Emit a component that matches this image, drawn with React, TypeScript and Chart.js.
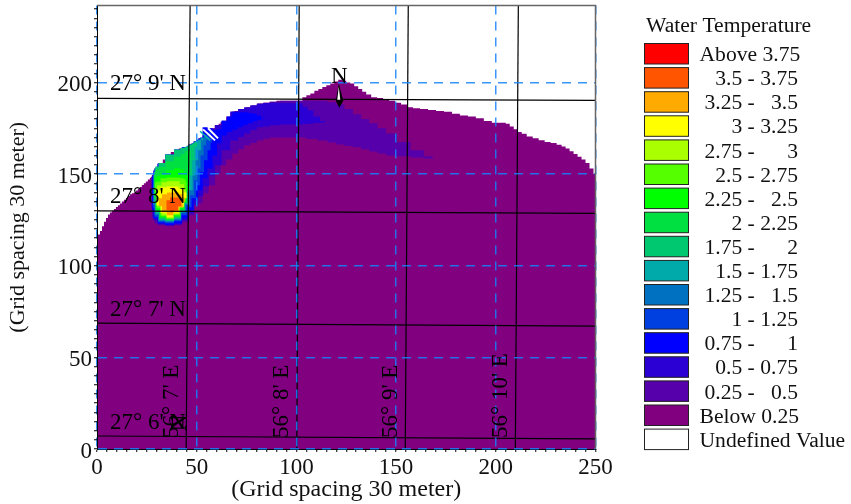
import React, { useEffect, useRef } from "react";
import { Chart, registerables } from "chart.js";

Chart.register(...registerables);

const FONT = "'Liberation Serif', 'Times New Roman', serif";

const coastX = [0,1,2,3,4,5,6,7,8,9,10,11,12,13,14,15,16,17,18,19,20,21,22,23,24,25,26,27,28,29,30,32,34,36,38,40,42,44,46,48,50,52,54,56,58,60,62,64,66,68,70,73,76,79,82,85,88,92,96,100,102,104,106,108,110,112,114,116,118,120,122,124,126,128,130,132,134,136,139,142,145,148,151,154,157,160,164,168,172,176,180,184,188,192,196,200,202,204,206,208,210,212,214,217,220,223,226,229,232,234,236,238,240,242,244,246,248,250];
const coastY = [115.5,117,119,121.5,124,126,128,129,130,131,132,133,134,135,136,137,138,139,139.5,140,141,142,143,144,145,146,147,148,149.5,152,154,156,158,160,162,163,164,164.5,165,166.5,168,169.5,171,173,175,176.5,177.5,179,181,183.5,184.5,185.5,186.5,187.5,188.5,189,189.5,190,190,190,190,192,193,194,195.5,196.5,197.5,198.5,199.5,200.5,201.5,201,200,199.5,198,196.5,195,193.5,192,191.5,190.5,190,189,188,186.5,186,185.5,185,184.5,184,183,182,181.5,180.5,179,178,178,178,177.5,176,174.5,173,172,170.5,169.5,168.5,167.5,167,166,165,164,162.5,161,159.5,158,156,153,150];

const l025X = [27.1,28.1,29.6,31.6,36.6,40.7,44.7,47.7,50.2,51.7,54.2,57.7,60.7,63.3,66.3,69.3,72.3,75.3,78.5,81.8,85,88.4,95,101.9,107.7,113.5,117.7,122,126.2,130.5,134.5,138.6,142.8,147.1,153.8,160.6,167.2,169.5];
const l025Lo = [131.3,125.9,123.2,122.1,121.5,122.1,123.7,127.5,132.4,134.1,139.5,143.9,150.4,154.8,158,161.3,163.5,165.7,167,168.4,169.3,170,170,170,169.2,168.4,167.3,166.2,165.4,164.6,163.5,162.4,161.3,160.2,159.7,159.1,158.5,158.8];
const l025Hi = [148.5,149.7,153,155.6,160.6,163.3,164.7,166.3,168.1,169.3,171.2,174.7,176.8,178.5,181.5,184.1,185.5,186.3,187.5,188.4,189,189.5,190,190,190,190,189.2,188,185.5,182.6,180,177.7,175,172.2,167.5,163,159.8,158.8];

const l050X = [27.6,29.1,31.6,36.6,40.7,44.7,47.2,49.7,51.7,54.7,57.7,60.7,64.3,69.3,72.3,75.3,78.5,81.8,85,88.4,95,101.9,104.4,106.9,110.2,113.5,115];
const l050Lo = [129.2,124.8,122.6,122.1,122.6,124.8,128.6,133.5,137.9,143.3,149.3,154.8,163,168.4,170.3,172.2,174,175.5,176,176.6,177,177.1,177.3,177.5,178,178.2,178.6];
const l050Hi = [149,152,155.6,160.6,163.3,164.7,166,167.8,169.3,171.8,174.7,176.8,179.3,184.1,185.5,186.3,187.5,188.4,188.8,189,188.8,188.5,186.8,184.8,181.5,179,178.6];

const l075X = [27.6,29.1,31.6,36.6,40.7,44.7,47.2,49.7,51.7,54.2,56.7,59.2,61.2,63.8,66.5,69.3,71.8,74.3,76.8,79.3,81.3,83.3,84.3];
const l075Lo = [130.3,125.9,123.2,122.4,123.2,125.9,130.3,135.7,141.2,147.7,153.1,160.2,166.8,171.1,173,174.4,175.5,176.6,177.7,178.8,179.5,180.4,180.4];
const l075Hi = [149,152,155.6,160.6,163.3,164.7,166,167.8,169.3,175.5,175,174,174.5,179,181.5,183.7,183.7,183.7,183.4,182.9,181.8,180.8,180.4];

const l100X = [28.1,29.6,31.6,36.6,40.7,44.2,46.2,48.7,50.7,52.7,54.7,56.2,57.7];
const l100Lo = [131.3,126.4,123.7,123.2,124.3,127.5,131.9,136.8,143.9,151,157.5,163,167.3];
const l100Hi = [149.7,153,155.6,160.6,163.3,164.5,165.5,167,168.7,170,171.5,172.5,170];

const l125X = [28.1,29.6,31.6,36.6,40.7,43.7,45.7,47.7,49.7,51.2,52.7,54.2,55.2];
const l125Lo = [133,127.5,124.3,123.7,124.8,128.6,133,138.4,146.6,153.1,160.2,165.7,168.4];
const l125Hi = [149.7,153,155.6,160.6,163.3,164.4,165,166.3,167.8,169,170,170.5,170.5];

const l150X = [28.6,30.1,32.1,36.6,40.7,43.2,45.2,47.2,48.7,50.2,51.2,53.2];
const l150Lo = [134.6,128.1,124.8,124.3,125.4,129.2,133.5,141.2,149.3,157.5,163,168.4];
const l150Hi = [150.5,154,156,160.6,163.3,164.3,164.9,166,167,168,168.5,169.5];

const l175X = [28.6,30.1,32.1,36.6,40.7,43.2,44.7,46.2,47.2,48.2,49.7,50.7];
const l175Lo = [135.7,129.2,125.4,124.5,125.9,129.7,134.1,141.2,149.3,157.5,165.1,168.4];
const l175Hi = [150.5,154,156,160.6,163.3,164.3,164.7,165.5,166,166.5,167.8,168.4];

const l200X = [28.6,30.1,32.1,36.6,40.7,43.2,44.7,45.7,46.2,46.7,47.2];
const l200Lo = [136.8,129.2,125.9,124.8,126.4,130.3,134.6,141.2,149.3,157.5,163];
const l200Hi = [151,152.5,154,157,159.5,161,162.5,163,163,163,163];

const l225X = [29.1,30.6,32.6,36.6,40.7,42.7,44.2,45.2,45.7];
const l225Lo = [138.4,130.3,126.4,125.4,127,130.8,134.6,141.2,147.7];
const l225Hi = [148.2,148.8,149.6,152,153,152.5,151,149.5,147.7];

const l250X = [29.1,30.6,33.1,36.6,40.7,42.7,44.2,44.7,45.2];
const l250Lo = [140,131.3,127,125.6,127.5,131.9,135.2,140,143.3];
const l250Hi = [145.5,146,147.7,148.2,148.2,147.7,147.2,145.5,143.3];

const l275X = [29.1,31.1,33.6,36.6,40.2,42.7,44.7];
const l275Lo = [141.2,132.4,127.5,125.9,128.1,132.4,137.9];
const l275Hi = [142.2,143.9,145.5,146.1,146.1,144.4,141.2];

const l300X = [29.1,30.6,33.1,36.6,39.7,42.2,44.7,45.2];
const l300Lo = [137.9,133,128.6,126.4,128.6,131.9,136.8,137.9];
const l300Hi = [137.9,141.2,142.8,143.3,143.3,142.2,140,137.9];

const l325X = [30.6,31.6,33.6,36.6,39.7,42.2,43.7,44.2];
const l325Lo = [133.5,132.4,129.2,127.5,129.2,131.9,134.6,136.8];
const l325Hi = [133.5,136.8,139,140,140,139,137.3,136.8];

const l350X = [34.1,35.6,37.6,39.7,41.7,42.7];
const l350Lo = [133,130.3,129.2,130.3,132.4,135.2];
const l350Hi = [133,135.7,137.3,137.3,136.8,135.2];

const stripeTealX = [51.7,56.7];
const stripeTealY = [173.4,168.4];
const stripeWhiteAX = [53.2,59.2];
const stripeWhiteAY = [174.4,168.4];
const stripeWhiteBX = [55.7,60.7];
const stripeWhiteBY = [175,169.5];

const lat9X = [0,250], lat9Y = [191.3,190.2];
const lat8X = [0,250], lat8Y = [129.9,128.6];
const lat7X = [0,250], lat7Y = [68.7,67];
const lat6X = [0,250], lat6Y = [7.1,5.5];
const lonY = [242,0];
const lon7X = [46.7,44.7];
const lon8X = [101.4,100.2];
const lon9X = [156.1,154.6];
const lon10X = [211.3,209.8];

const legendLabels = ["Above 3.75","3.5 - 3.75","3.25 -   3.5","3 - 3.25","2.75 -      3","2.5 - 2.75","2.25 -   2.5","2 - 2.25","1.75 -      2","1.5 - 1.75","1.25 -   1.5","1 - 1.25","0.75 -      1","0.5 - 0.75","0.25 -   0.5","Below 0.25","Undefined Value"];
const legendColors = ["#ff0000","#ff5500","#ffaa00","#ffff00","#aaff00","#55ff00","#00ff00","#00e040","#00c870","#00aaaa","#0070c0","#0040e0","#0000ff","#2a00d4","#5500aa","#800080","#ffffff"];

const latLabels = ["27° 9' N","27° 8' N","27° 7' N","27° 6' N"];
const latLabelX = [6.5,6.5,6.5,6.5];
const latLabelY = [199,137.3,75.8,14.2];
const lonLabels = ["56° 7' E","56° 8' E","56° 9' E","56° 10' E"];
const lonLabelX = [37.6,92.6,147.4,202.8];
const lonLabelY = [6,6,6,6];

const zip = (xs: number[], ys: number[]) => xs.map((x, i) => ({ x, y: ys[i] }));

const lineDs = (xs: number[], ys: number[], color: string, width = 1.2, dash: number[] = []) => ({
  data: zip(xs, ys), borderColor: color, borderWidth: width, borderDash: dash, pointRadius: 0, fill: false,
});

const bandDs = (xs: number[], lo: number[], hi: number[], color: string) => [
  { data: zip(xs, lo), borderWidth: 0, pointRadius: 0, fill: false, stepped: "middle" },
  { data: zip(xs, hi), borderWidth: 0, pointRadius: 0, fill: "-1", backgroundColor: color, stepped: "middle" },
];

const annotations = {
  id: "annotations",
  afterDraw(chart: any) {
    const { ctx, scales, chartArea } = chart;
    const sx = scales.x, sy = scales.y;
    ctx.save();
    // frame
    ctx.strokeStyle = "#666";
    ctx.lineWidth = 1.5;
    ctx.beginPath();
    ctx.moveTo(chartArea.left, chartArea.top);
    ctx.lineTo(chartArea.right, chartArea.top);
    ctx.lineTo(chartArea.right, chartArea.bottom);
    ctx.stroke();

    ctx.fillStyle = "#000";
    ctx.font = `23px ${FONT}`;
    ctx.textBaseline = "middle";
    ctx.textAlign = "left";
    latLabels.forEach((t, i) => ctx.fillText(t, sx.getPixelForValue(latLabelX[i]), sy.getPixelForValue(latLabelY[i])));
    lonLabels.forEach((t, i) => {
      ctx.save();
      ctx.translate(sx.getPixelForValue(lonLabelX[i]), sy.getPixelForValue(lonLabelY[i]));
      ctx.rotate(-Math.PI / 2);
      ctx.fillText(t, 0, 0);
      ctx.restore();
    });
    // north arrow, anchored at its data position
    const ax = sx.getPixelForValue(121), ay = sy.getPixelForValue(189);
    ctx.textAlign = "center";
    ctx.font = `23px ${FONT}`;
    ctx.fillText("N", ax + 1, ay - 26);
    ctx.beginPath();
    ctx.moveTo(ax + 0.5, ay - 19); ctx.lineTo(ax - 2.5, ay - 2); ctx.lineTo(ax + 1, ay + 5); ctx.lineTo(ax + 5, ay - 2); ctx.closePath();
    ctx.fillStyle = "#000"; ctx.fill();
    ctx.beginPath();
    ctx.moveTo(ax + 0.5, ay - 16); ctx.lineTo(ax - 1, ay - 3); ctx.lineTo(ax + 2, ay - 3); ctx.closePath();
    ctx.fillStyle = "#fff"; ctx.fill();
    // rotated N at the bottom
    ctx.fillStyle = "#000";
    ctx.save();
    ctx.translate(sx.getPixelForValue(41.7), sy.getPixelForValue(14.2));
    ctx.rotate(-Math.PI / 2);
    ctx.fillText("N", 0, 0);
    ctx.restore();

    // legend
    ctx.font = `21.6px ${FONT}`;
    ctx.textAlign = "left";
    ctx.fillStyle = "#111";
    ctx.fillText("Water Temperature", 646, 26);
    legendLabels.forEach((t, i) => {
      const top = 43.5 + i * 24.1;
      ctx.fillStyle = legendColors[i];
      ctx.fillRect(644.5, top, 44, 20.5);
      ctx.strokeStyle = "#222";
      ctx.lineWidth = 1;
      ctx.strokeRect(644.5, top, 44, 20.5);
      ctx.fillStyle = "#111";
      if (t.startsWith("Above") || t.startsWith("Below") || t.startsWith("Undefined")) {
        ctx.textAlign = "left";
        ctx.fillText(t, 699.5, top + 12);
      } else {
        ctx.textAlign = "right";
        ctx.fillText(t, 798, top + 12);
      }
    });
    ctx.restore();
  },
};

const gridColor = (ctx: any) => (ctx.tick && ctx.tick.value % 50 === 0 ? "rgba(20,130,250,0.85)" : "rgba(0,0,0,0)");
const major = (v: any) => (Number(v) % 50 === 0 ? String(v) : "");

export default function App() {
  const ref = useRef<HTMLCanvasElement | null>(null);
  useEffect(() => {
    const datasets: any[] = [
      lineDs(lat9X, lat9Y, "#000"),
      lineDs(lat8X, lat8Y, "#000"),
      lineDs(lat7X, lat7Y, "#000"),
      lineDs(lat6X, lat6Y, "#000"),
      lineDs(lon7X, lonY, "#000"),
      lineDs(lon8X, lonY, "#000"),
      lineDs(lon9X, lonY, "#000"),
      lineDs(lon10X, lonY, "#000"),
      lineDs(stripeTealX, stripeTealY, "#00aaaa", 1.5),
      lineDs(stripeWhiteAX, stripeWhiteAY, "#ffffff", 2),
      lineDs(stripeWhiteBX, stripeWhiteBY, "#ffffff", 2),
      ...bandDs(l350X, l350Lo, l350Hi, "#ff5500"),
      ...bandDs(l325X, l325Lo, l325Hi, "#ffaa00"),
      ...bandDs(l300X, l300Lo, l300Hi, "#ffff00"),
      ...bandDs(l275X, l275Lo, l275Hi, "#aaff00"),
      ...bandDs(l250X, l250Lo, l250Hi, "#55ff00"),
      ...bandDs(l225X, l225Lo, l225Hi, "#00ff00"),
      ...bandDs(l200X, l200Lo, l200Hi, "#00e040"),
      ...bandDs(l175X, l175Lo, l175Hi, "#00c870"),
      ...bandDs(l150X, l150Lo, l150Hi, "#00aaaa"),
      ...bandDs(l125X, l125Lo, l125Hi, "#0070c0"),
      ...bandDs(l100X, l100Lo, l100Hi, "#0040e0"),
      ...bandDs(l075X, l075Lo, l075Hi, "#0000ff"),
      ...bandDs(l050X, l050Lo, l050Hi, "#2a00d4"),
      ...bandDs(l025X, l025Lo, l025Hi, "#5500aa"),
      { data: zip(coastX, coastY), borderWidth: 0, pointRadius: 0, fill: "origin", backgroundColor: "#800080", stepped: "middle" },
    ];
    const chart = new Chart(ref.current as HTMLCanvasElement, {
      type: "line",
      data: { datasets },
      plugins: [annotations],
      options: {
        responsive: false,
        animation: false,
        parsing: false as any,
        normalized: true,
        layout: { padding: { top: 5.5, right: 255.5, left: 0, bottom: 0 } },
        plugins: { legend: { display: false }, tooltip: { enabled: false } },
        scales: {
          x: {
            type: "linear", min: 0, max: 250,
            afterFit: (s: any) => { s.height = 55; s.paddingLeft = 0; s.paddingRight = 0; },
            title: { display: true, text: "(Grid spacing 30 meter)", color: "#111", font: { family: FONT, size: 24 }, padding: 0 },
            ticks: { stepSize: 5, autoSkip: false, maxRotation: 0, includeBounds: false, callback: major, color: "#111", font: { family: FONT, size: 23 }, padding: 2 },
            grid: { z: 1, color: gridColor, lineWidth: 1.5, tickColor: "#000", tickWidth: 1, tickLength: 3, tickBorderDash: [] },
            border: { display: true, z: 1, color: "#000", dash: [9, 7] },
          },
          y: {
            type: "linear", min: 0, max: 242,
            afterFit: (s: any) => { s.width = 97; s.paddingTop = 0; s.paddingBottom = 0; },
            title: { display: true, text: "(Grid spacing 30 meter)", color: "#111", font: { family: FONT, size: 22 }, padding: { top: 5, bottom: 0 } },
            ticks: { stepSize: 5, autoSkip: false, includeBounds: false, callback: major, color: "#111", font: { family: FONT, size: 23 }, padding: 2, labelOffset: 2.5 },
            grid: { z: 1, color: gridColor, lineWidth: 1.5, tickColor: "#000", tickWidth: 1, tickLength: 3, tickBorderDash: [] },
            border: { display: true, z: 1, color: "#000", dash: [9, 7] },
          },
        },
      },
    } as any);
    return () => chart.destroy();
  }, []);
  return (
    <div style={{ position: "absolute", left: 0, top: 0, width: 851, height: 504, background: "#fff" }}>
      <canvas ref={ref} width={851} height={504} style={{ display: "block" }} />
    </div>
  );
}
